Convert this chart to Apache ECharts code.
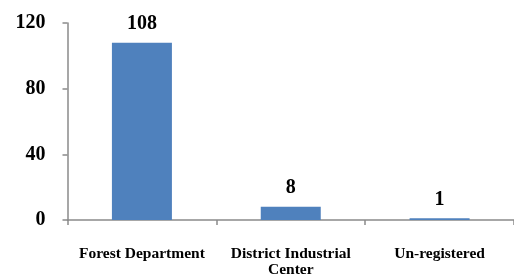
<!DOCTYPE html>
<html><head><meta charset="utf-8">
<script src="https://cdn.jsdelivr.net/npm/echarts@6/dist/echarts.min.js"></script>
<style>html,body{margin:0;padding:0;background:#fff}#c{width:514px;height:278px}</style>
</head><body><div id="c"></div>
<script>
var categories = ["Forest Department", "District Industrial\nCenter", "Un-registered"];
var values = [108, 8, 1];
var yTicks = [0, 40, 80, 120];

var font = '"Liberation Serif", "Times New Roman", serif';
var chart = echarts.init(document.getElementById('c'), null, {renderer: 'canvas'});
chart.setOption({
  animation: false,
  grid: {left: 67.5, top: 23, width: 453, height: 199, containLabel: false},
  xAxis: {
    type: 'category', data: categories,
    axisLine: {lineStyle: {color: '#8a8a8a', width: 1.5}},
    axisTick: {show: true, alignWithLabel: false, length: 5, lineStyle: {color: '#8a8a8a', width: 1.5}},
    axisLabel: {color: '#000', fontFamily: font, fontWeight: 'bold', fontSize: 15.5, lineHeight: 16, margin: 26, interval: 0}
  },
  yAxis: {
    type: 'value', min: yTicks[0], max: yTicks[yTicks.length - 1], interval: 40,
    splitLine: {show: false},
    axisLine: {show: true, lineStyle: {color: '#8a8a8a', width: 1.5}},
    axisTick: {show: true, length: 5, lineStyle: {color: '#8a8a8a', width: 1.5}},
    axisLabel: {color: '#000', fontFamily: font, fontWeight: 'bold', fontSize: 20, margin: 22}
  },
  series: [{
    type: 'bar', data: values, barWidth: 60,
    itemStyle: {color: '#4F81BD'},
    label: {show: true, position: 'top', distance: 9, color: '#000', fontFamily: font, fontWeight: 'bold', fontSize: 20}
  }]
});
</script></body></html>
